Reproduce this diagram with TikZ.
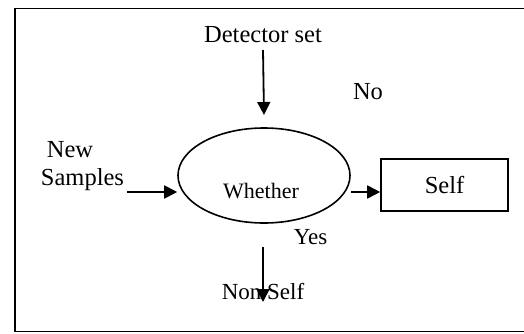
\documentclass[tikz,border=0pt]{standalone}
\usepackage{fontspec}
\setmainfont{Liberation Serif}
\usetikzlibrary{shapes.geometric,arrows.meta}
\begin{document}
\begin{tikzpicture}[x=1pt,y=1pt,
  lbl/.style={inner sep=0pt,anchor=base,font=\fontsize{24.5}{29}\selectfont},
  small/.style={inner sep=0pt,anchor=base,font=\fontsize{23}{27}\selectfont},
  arr/.style={line width=1.8pt,-{Triangle[length=13pt,width=13pt]}},
  box/.style={draw,line width=1.6pt,inner sep=0pt,minimum width=127pt,minimum height=52pt,
    font=\fontsize{24.5}{29}\selectfont},
  oval/.style={draw,ellipse,line width=1.6pt,inner sep=0pt,minimum width=172pt,minimum height=95pt}]
\useasboundingbox (0,0) rectangle (524,333);
\clip (0,0) rectangle (524,333);
% outer frame (its right side lies past the page edge)
\draw[line width=1.8pt] (15,1.5) rectangle (540,324.5);

% decision ellipse and result box
\node[oval] (whether) at (264,157.5) {};
\node[inner sep=0pt,anchor=base,font=\fontsize{22}{26}\selectfont] (wlabel) at (261,135) {Whether};
\node[box] (self) at (444.5,148) {Self};

% labels
\node[lbl] (det) at (263,290.3) {Detector set};
\node[lbl] (no) at (368,234) {No};
\node[lbl] (new) at (70,176) {New};
\node[lbl] (samples) at (82.5,148) {Samples};
\node[small] (yes) at (310.5,89) {Yes};
\node[small] (nonself) at (263,34) {Non Self};

% connector end points
\coordinate (d0) at (263,283);
\coordinate (d1) at (264,218);
\coordinate (s0) at (127,141);
\coordinate (n0) at (263,86);
\coordinate (n1) at (263,31);

% connectors
\draw[arr] (d0) -- (d1);
\draw[arr] (s0) -- (whether.west |- s0);
\draw[arr] (whether.east |- s0) -- (self.west |- s0);
\draw[arr] (n0) -- (n1);
\end{tikzpicture}
\end{document}
